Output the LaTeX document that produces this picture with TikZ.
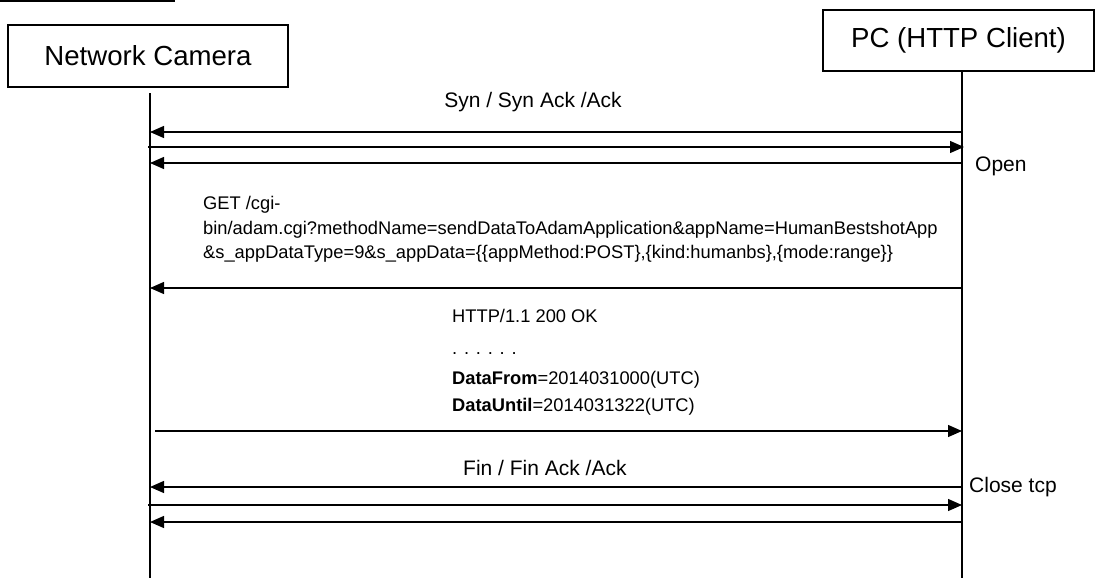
\documentclass[tikz,border=0pt]{standalone}
\usepackage{fontspec}
\setmainfont{Liberation Sans}
\usepackage{tikz}
\usetikzlibrary{arrows.meta, positioning}

\tikzset{
  actor/.style={draw, line width=1.3pt, inner sep=0pt, font=\fontsize{27.6}{32}\selectfont},
  msg/.style={line width=1.3pt, -{Triangle[length=14pt,width=12pt]}},
  plainmsg/.style={line width=1.3pt},
  lbl/.style={inner sep=0pt, font=\fontsize{21}{25}\selectfont},
  body/.style={inner sep=0pt, anchor=base west, font=\fontsize{18.3}{22}\selectfont}
}

\begin{document}
\begin{tikzpicture}[x=1pt,y=-1pt]
\useasboundingbox (0,0) rectangle (1096,581);
\draw[line width=1.5pt] (0,1) -- (175,1);

% Actors
\node[actor, minimum width=280pt, minimum height=62pt] (cam) at (148,56) {Network Camera};
\node[actor, minimum width=271pt, minimum height=61pt] (pc) at (958.5,40.5) {PC (HTTP Client)};
\coordinate (camtop) at (150,93);
\coordinate (cambot) at (150,578);
\coordinate (pctop) at (962,71);
\coordinate (pcbot) at (962,578);
\draw[plainmsg] (camtop) -- (cambot);
\draw[plainmsg] (pctop) -- (pcbot);

% Open
\coordinate (c1) at (150,132); \coordinate (p1) at (962,132);
\coordinate (c2) at (148,147); \coordinate (p2) at (964,147);
\coordinate (c3) at (150,163); \coordinate (p3) at (962,163);
\draw[msg] (p1) -- (c1);
\draw[msg] (c2) -- (p2);
\draw[msg] (p3) -- (c3);
\node[lbl, anchor=base] (syn) at (533,107.5) {Syn / Syn Ack /Ack};
\node[lbl, anchor=base west] (open) at (975,171.5) {Open};

% Request
\node[body] (get1) at (203,209) {GET /cgi-};
\node[body] (get2) at (203,234.5) {bin/adam.cgi?methodName=sendDataToAdamApplication\&appName=HumanBestshotApp};
\node[body] (get3) at (203,258.5) {\&s\_appDataType=9\&s\_appData=\{\{appMethod:POST\},\{kind:humanbs\},\{mode:range\}\}};
\coordinate (c4) at (150,288); \coordinate (p4) at (962,288);
\draw[msg] (p4) -- (c4);

% Response
\node[body] (ok) at (452,322.5) {HTTP/1.1 200 OK};
\node[body] (dots) at (452,354) {. . . . . .};
\node[body] (from) at (452,384.5) {\textbf{DataFrom}=2014031000(UTC)};
\node[body] (until) at (452,411.5) {\textbf{DataUntil}=2014031322(UTC)};
\coordinate (c5) at (155,431); \coordinate (p5) at (962,431);
\draw[msg] (c5) -- (p5);

% Close
\node[lbl, anchor=base west] (fin) at (463,475.5) {Fin / Fin Ack /Ack};
\node[lbl, anchor=base west] (close) at (969,492.5) {Close tcp};
\coordinate (c6) at (150,487); \coordinate (p6) at (962,487);
\coordinate (c7) at (148,505); \coordinate (p7) at (962,505);
\coordinate (c8) at (150,522); \coordinate (p8) at (962,522);
\draw[msg] (p6) -- (c6);
\draw[msg] (c7) -- (p7);
\draw[msg] (p8) -- (c8);
\end{tikzpicture}
\end{document}
